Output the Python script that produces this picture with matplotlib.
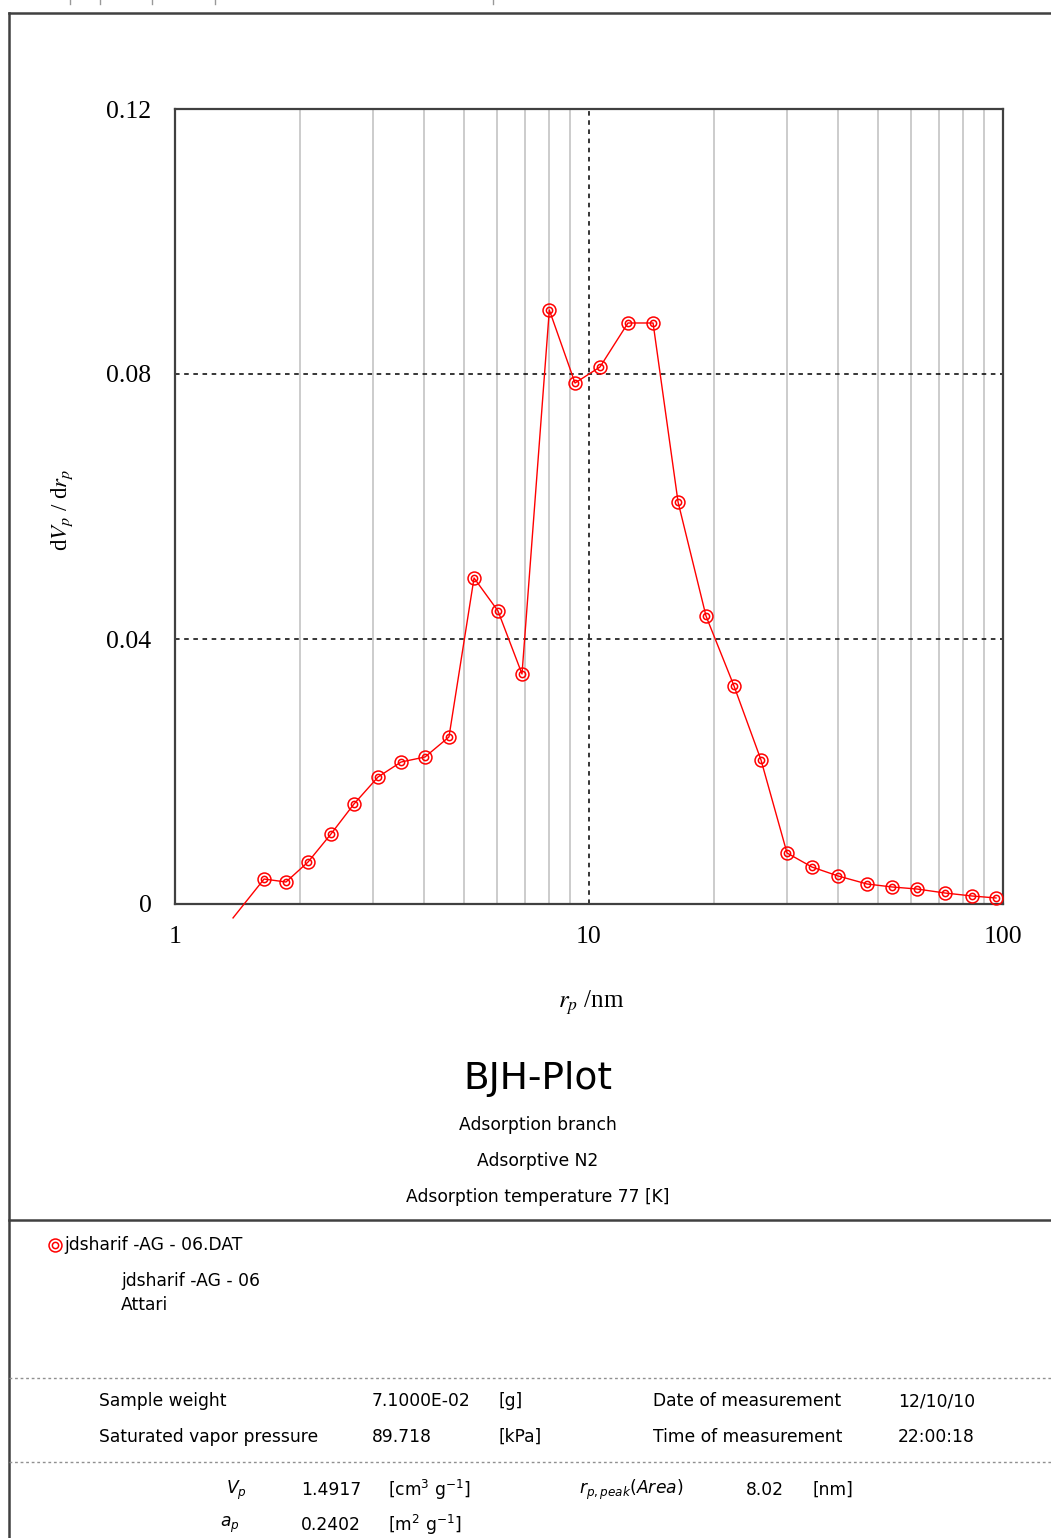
import matplotlib
matplotlib.use("Agg")
import matplotlib.pyplot as plt
from matplotlib.lines import Line2D
from matplotlib.ticker import FixedLocator, NullFormatter

# BJH pore size distribution (adsorption branch)
pore_radius_nm = [1.641, 1.854, 2.096, 2.381, 2.706, 3.093, 3.515, 4.017, 4.589,
                  5.276, 6.028, 6.889, 8.02, 9.252, 10.63, 12.42, 14.28, 16.41,
                  19.17, 22.40, 26.03, 30.08, 34.56, 39.95, 46.95, 53.94, 61.99,
                  72.44, 84.16, 96.2]
dvp_drp = [0.00377, 0.00332, 0.00634, 0.01057, 0.0151, 0.01917, 0.02143, 0.02219,
           0.02521, 0.04921, 0.04423, 0.03472, 0.08966, 0.07864, 0.08106, 0.0877,
           0.0877, 0.06068, 0.04347, 0.03291, 0.02174, 0.0077, 0.00558, 0.00423,
           0.00302, 0.00257, 0.00226, 0.00166, 0.00121, 0.00091]
# first point of the series lies below the plotted range
lead_radius_nm = 1.381
lead_dvp = -0.0021

x_ticks = [1, 10, 100]
y_ticks = [0, 0.04, 0.08, 0.12]
y_tick_labels = ["0", "0.04", "0.08", "0.12"]

W, H = 1051, 1538
RED = "#ff0000"
FRAME = "#404040"


def fx(x):
    return x / W


def fy(y):
    return 1 - y / H


fig = plt.figure(figsize=(W / 100, H / 100), dpi=100)
fig.patch.set_facecolor("white")

ax = fig.add_axes([fx(175), fy(904), (1003 - 175) / W, (904 - 109) / H])
ax.set_xscale("log")
ax.set_xlim(1, 100)
ax.set_ylim(0, 0.12)

minor = [m * d for d in (1, 10) for m in range(2, 10)]
for xv in minor:
    ax.axvline(xv, color="#c8c8c8", lw=1.3, zorder=1)
ax.axvline(10, color="black", lw=1.1, ls=(0, (3, 3)), zorder=1)
for yv in (0.04, 0.08):
    ax.axhline(yv, color="black", lw=1.1, ls=(0, (3, 3)), zorder=1)

ax.xaxis.set_major_locator(FixedLocator(x_ticks))
ax.xaxis.set_minor_formatter(NullFormatter())
ax.set_xticks(x_ticks)
ax.set_xticklabels([str(v) for v in x_ticks])
ax.set_yticks(y_ticks)
ax.set_yticklabels(y_tick_labels)
ax.tick_params(which="both", length=0, labelsize=18.5, pad=16)
for lab in ax.get_xticklabels() + ax.get_yticklabels():
    lab.set_fontfamily("Liberation Serif")
ax.tick_params(axis="y", pad=17)
for s in ax.spines.values():
    s.set_color(FRAME)
    s.set_linewidth(1.6)

line = Line2D([lead_radius_nm] + pore_radius_nm, [lead_dvp] + dvp_drp,
              color=RED, lw=1.0, zorder=3, clip_on=False)
ax.add_line(line)
ax.plot(pore_radius_nm, dvp_drp, ls="none", marker="o", ms=9.3, mfc="none",
        mec=RED, mew=1.1, zorder=4, clip_on=False)
ax.plot(pore_radius_nm, dvp_drp, ls="none", marker="o", ms=4.5, mfc="none",
        mec=RED, mew=1.1, zorder=4, clip_on=False)

# axis titles
fig.text(fx(62), fy(510), r"d$V_p$ / d$r_p$", rotation=90, ha="center",
         va="center", fontsize=16.5, family="Liberation Serif",
         math_fontfamily="stix")
fig.text(fx(591), fy(1003), r"$r_p$ /nm", ha="center", va="center",
         fontsize=18, family="Liberation Serif", math_fontfamily="stix")

# plot title block
fig.text(fx(538), fy(1079), "BJH-Plot", ha="center", va="center",
         fontsize=27, family="DejaVu Sans")
for yy, txt in [(1125, "Adsorption branch"), (1161, "Adsorptive N2"),
                (1197, "Adsorption temperature 77 [K]")]:
    fig.text(fx(538), fy(yy), txt, ha="center", va="center", fontsize=12.3,
             family="DejaVu Sans")

# page frame
frame_kw = dict(color=FRAME, lw=1.8, transform=fig.transFigure)
fig.add_artist(Line2D([fx(9), 1], [fy(13), fy(13)], **frame_kw))
fig.add_artist(Line2D([fx(9), fx(9)], [fy(13), 0], **frame_kw))
fig.add_artist(Line2D([fx(9), 1], [fy(1220), fy(1220)], **frame_kw))
for xx in (70, 100, 152, 215, 493):
    fig.add_artist(Line2D([fx(xx), fx(xx)], [1, fy(4)], color="#999999",
                          lw=1, transform=fig.transFigure))
for yy in (1378, 1462):
    fig.add_artist(Line2D([fx(9), 1], [fy(yy), fy(yy)], color="#909090",
                          lw=1, ls=(0, (2, 2)), transform=fig.transFigure))

# legend entry
fig.add_artist(Line2D([fx(55)], [fy(1245)], ls="none", marker="o", ms=9.3,
                      mfc="none", mec=RED, mew=1.1, transform=fig.transFigure))
fig.add_artist(Line2D([fx(55)], [fy(1245)], ls="none", marker="o", ms=4.5,
                      mfc="none", mec=RED, mew=1.1, transform=fig.transFigure))
foot = dict(fontsize=12.3, family="DejaVu Sans", va="center", ha="left")
fig.text(fx(64), fy(1245), "jdsharif -AG - 06.DAT", **foot)
fig.text(fx(121), fy(1281), "jdsharif -AG - 06", **foot)
fig.text(fx(121), fy(1305), "Attari", **foot)

# measurement conditions
rows = [
    (1401, ["Sample weight", "7.1000E-02", "[g]", "Date of measurement", "12/10/10"]),
    (1437, ["Saturated vapor pressure", "89.718", "[kPa]", "Time of measurement", "22:00:18"]),
]
cols = [99, 372, 498, 653, 898]
for yy, cells in rows:
    for xx, txt in zip(cols, cells):
        fig.text(fx(xx), fy(yy), txt, **foot)

# results
fig.text(fx(226), fy(1490), r"$\mathit{V_p}$", **foot)
fig.text(fx(301), fy(1490), "1.4917", **foot)
fig.text(fx(388), fy(1490), r"[cm$^3$ g$^{-1}$]", **foot)
fig.text(fx(579), fy(1490), r"$\mathit{r_{p,peak}}$($\mathit{Area}$)", **foot)
fig.text(fx(746), fy(1490), "8.02", **foot)
fig.text(fx(813), fy(1490), "[nm]", **foot)
fig.text(fx(220), fy(1525), r"$\mathit{a_p}$", **foot)
fig.text(fx(301), fy(1525), "0.2402", **foot)
fig.text(fx(388), fy(1525), r"[m$^2$ g$^{-1}$]", **foot)

fig.savefig("out.png", dpi=100, facecolor="white")
